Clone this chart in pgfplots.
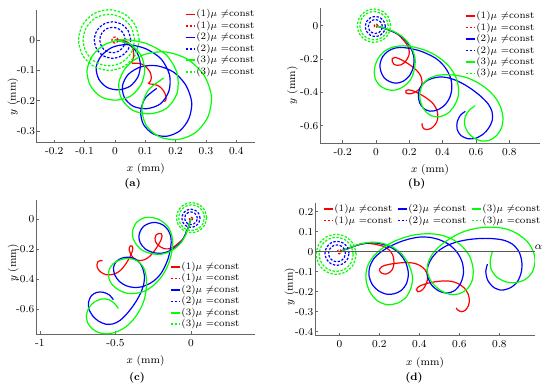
\documentclass[border=0pt]{standalone}
\usepackage{pgfplots}
\pgfplotsset{compat=1.18}
\pgfplotsset{
  legend image code/.code={\draw[#1, line width=1.2pt] (0pt,0pt) -- (7pt,0pt);},
  panel/.style={
    scale only axis, anchor=south west,
    axis x line*=bottom, axis y line*=left,
    axis line style={black!60, line width=0.7pt, -},
    tick align=inside, major tick length=2.2pt,
    every tick/.style={black!60, line width=0.5pt},
    tick label style={font=\footnotesize},
    yticklabel style={inner xsep=1pt},
    label style={font=\footnotesize},
    xlabel={$x$ (mm)}, ylabel={$y$ (mm)},
    clip mode=individual,
    legend cell align=left,
    legend style={draw=none, fill=none, font=\fontsize{7.3}{8.5}\selectfont, inner sep=0pt, outer sep=0pt,
      nodes={inner sep=0.4pt, text height=5.8pt, text depth=2pt}},
  },
  sR/.style={color=red, line width=0.9pt, smooth, mark=none},
  dR/.style={color=red, line width=0.9pt, smooth, mark=none, dash pattern=on 1.8pt off 1.2pt},
  sB/.style={color=blue, line width=0.9pt, smooth, mark=none},
  dB/.style={color=blue, line width=0.9pt, smooth, mark=none, dash pattern=on 1.8pt off 1.2pt},
  sG/.style={color=green, line width=0.9pt, smooth, mark=none},
  dG/.style={color=green, line width=0.9pt, smooth, mark=none, dash pattern=on 1.8pt off 1.2pt},
}
\begin{document}
\begin{tikzpicture}
\path[use as bounding box] (0,0) rectangle (412.5pt,292.5pt);

% ---------------- (a) ----------------
\begin{axis}[panel, at={(27.5pt,185.5pt)}, width=163.7pt, height=99.5pt,
  xmin=-0.258, xmax=0.4615, ymin=-0.338, ymax=0.099,
  xtick={-0.2,-0.1,0,0.1,0.2,0.3,0.4}, ytick={-0.3,-0.2,-0.1,0},
  xticklabels={-0.2,-0.1,0,0.1,0.2,0.3,0.4}, yticklabels={-0.3,-0.2,-0.1,0},
  ylabel style={at={(rel axis cs:-0.109,0.347)}, anchor=center},
  legend style={at={(rel axis cs:1,1.01)}, anchor=north east}]
\addplot[sR] coordinates {(0,0) (0.02,0.0) (0.038,-0.005) (0.052,-0.016) (0.06,-0.032) (0.062,-0.05) (0.059,-0.065) (0.055,-0.073) (0.058,-0.077) (0.07,-0.076) (0.088,-0.079) (0.104,-0.09) (0.116,-0.106) (0.12,-0.124) (0.116,-0.137) (0.111,-0.142) (0.116,-0.145) (0.13,-0.146) (0.147,-0.153) (0.16,-0.167) (0.168,-0.184) (0.168,-0.197) (0.163,-0.203)};
\addlegendentry{(1)$\mu$ $\neq$const}
\addplot[dR] coordinates {(0.01,0) (0.0087,0.005) (0.005,0.0087) (0,0.01) (-0.005,0.0087) (-0.0087,0.005) (-0.01,0) (-0.0087,-0.005) (-0.005,-0.0087) (0,-0.01) (0.005,-0.0087) (0.0087,-0.005) (0.01,0)};
\addlegendentry{(1)$\mu$ $=$const}
\addplot[sB] coordinates {(0,0) (0.041,-0.011) (0.072,-0.040) (0.084,-0.080) (0.076,-0.121) (0.050,-0.152) (0.012,-0.164) (-0.026,-0.156) (-0.053,-0.129) (-0.062,-0.090) (-0.045,-0.052) (-0.009,-0.024) (0.040,-0.015) (0.100,-0.028) (0.152,-0.062) (0.180,-0.115) (0.178,-0.168) (0.150,-0.210) (0.105,-0.226) (0.060,-0.218) (0.031,-0.189) (0.025,-0.150) (0.044,-0.113) (0.086,-0.088) (0.140,-0.085) (0.194,-0.106) (0.234,-0.149) (0.253,-0.205) (0.244,-0.258) (0.214,-0.299) (0.170,-0.317) (0.126,-0.309) (0.094,-0.278) (0.085,-0.235) (0.100,-0.191) (0.138,-0.159)};
\addlegendentry{(2)$\mu$ $\neq$const}
\addplot[dB] coordinates {(0.052,0) (0.044,0.03) (0.022,0.052) (-0.008,0.06) (-0.038,0.052) (-0.06,0.03) (-0.068,0) (-0.06,-0.03) (-0.038,-0.052) (-0.008,-0.06) (0.022,-0.052) (0.044,-0.03) (0.052,0)};
\addlegendentry{(2)$\mu$ $=$const}
\addplot[dB, forget plot] coordinates {(0.034,0) (0.0284,0.021) (0.013,0.0364) (-0.008,0.042) (-0.029,0.0364) (-0.0444,0.021) (-0.05,0) (-0.0444,-0.021) (-0.029,-0.0364) (-0.008,-0.042) (0.013,-0.0364) (0.0284,-0.021) (0.034,0)};
\addplot[sG] coordinates {(0,0) (0.049,-0.013) (0.085,-0.049) (0.098,-0.098) (0.086,-0.147) (0.051,-0.185) (0.002,-0.198) (-0.046,-0.187) (-0.081,-0.150) (-0.092,-0.100) (-0.073,-0.050) (-0.030,-0.013) (0.030,0.001) (0.105,-0.012) (0.170,-0.050) (0.205,-0.110) (0.205,-0.175) (0.170,-0.225) (0.115,-0.243) (0.060,-0.232) (0.022,-0.194) (0.013,-0.140) (0.039,-0.087) (0.093,-0.049) (0.165,-0.039) (0.237,-0.062) (0.293,-0.115) (0.318,-0.185) (0.306,-0.254) (0.264,-0.306) (0.205,-0.328) (0.145,-0.318) (0.102,-0.279) (0.089,-0.222) (0.110,-0.165) (0.161,-0.125)};
\addlegendentry{(3)$\mu$ $\neq$const}
\addplot[dG] coordinates {(0.08,0) (0.0666,0.05) (0.03,0.0866) (-0.02,0.1) (-0.07,0.0866) (-0.1066,0.05) (-0.12,0) (-0.1066,-0.05) (-0.07,-0.0866) (-0.02,-0.1) (0.03,-0.0866) (0.0666,-0.05) (0.08,0)};
\addlegendentry{(3)$\mu$ $=$const}
\addplot[dG, forget plot] coordinates {(0.065,0) (0.0536,0.0425) (0.0225,0.0736) (-0.02,0.085) (-0.0625,0.0736) (-0.0936,0.0425) (-0.105,0) (-0.0936,-0.0425) (-0.0625,-0.0736) (-0.02,-0.085) (0.0225,-0.0736) (0.0536,-0.0425) (0.065,0)};
\end{axis}

% ---------------- (b) ----------------
\begin{axis}[panel, at={(240pt,185pt)}, width=165pt, height=101.25pt,
  xmin=-0.336, xmax=0.984, ymin=-0.706, ymax=0.104,
  xtick={-0.2,0,0.2,0.4,0.6,0.8}, ytick={-0.6,-0.4,-0.2,0},
  xticklabels={-0.2,0,0.2,0.4,0.6,0.8}, yticklabels={-0.6,-0.4,-0.2,0},
  ylabel style={at={(rel axis cs:-0.125,0.43)}, anchor=center},
  legend style={at={(rel axis cs:0.977,0.985)}, anchor=north east}]
\addplot[sR] coordinates {(0,0) (0.048,-0.016) (0.097,-0.034) (0.134,-0.054) (0.163,-0.085) (0.189,-0.119) (0.199,-0.151) (0.197,-0.179) (0.186,-0.202) (0.170,-0.222) (0.151,-0.235) (0.129,-0.238) (0.108,-0.232) (0.097,-0.215) (0.098,-0.197) (0.113,-0.191) (0.134,-0.196) (0.164,-0.211) (0.198,-0.232) (0.230,-0.256) (0.255,-0.281) (0.271,-0.309) (0.276,-0.339) (0.270,-0.366) (0.254,-0.386) (0.232,-0.400) (0.210,-0.408) (0.191,-0.408) (0.179,-0.402) (0.180,-0.390) (0.193,-0.385) (0.213,-0.388) (0.243,-0.400) (0.279,-0.419) (0.312,-0.441) (0.342,-0.467) (0.362,-0.499) (0.371,-0.535) (0.368,-0.568) (0.354,-0.595) (0.331,-0.616) (0.306,-0.623) (0.285,-0.617) (0.276,-0.596) (0.278,-0.586)};
\addlegendentry{(1)$\mu$ $\neq$const}
\addplot[dR] coordinates {(0.01,0) (0.0087,0.005) (0.005,0.0087) (0,0.01) (-0.005,0.0087) (-0.0087,0.005) (-0.01,0) (-0.0087,-0.005) (-0.005,-0.0087) (0,-0.01) (0.005,-0.0087) (0.0087,-0.005) (0.01,0)};
\addlegendentry{(1)$\mu$ $=$const}
\addplot[sB] coordinates {(0,0) (0.048,-0.016) (0.100,-0.035) (0.149,-0.063) (0.185,-0.098) (0.213,-0.143) (0.228,-0.195) (0.223,-0.252) (0.199,-0.303) (0.160,-0.335) (0.120,-0.345) (0.082,-0.336) (0.049,-0.313) (0.029,-0.274) (0.024,-0.232) (0.040,-0.186) (0.071,-0.154) (0.112,-0.135) (0.157,-0.131) (0.210,-0.138) (0.263,-0.151) (0.312,-0.171) (0.357,-0.195) (0.395,-0.227) (0.426,-0.268) (0.449,-0.319) (0.455,-0.375) (0.443,-0.430) (0.413,-0.476) (0.370,-0.505) (0.324,-0.513) (0.286,-0.497) (0.262,-0.463) (0.254,-0.418) (0.266,-0.370) (0.296,-0.336) (0.335,-0.317) (0.381,-0.308) (0.429,-0.312) (0.480,-0.328) (0.535,-0.356) (0.585,-0.389) (0.632,-0.427) (0.674,-0.471) (0.696,-0.515) (0.698,-0.565) (0.677,-0.613) (0.644,-0.650) (0.597,-0.676) (0.551,-0.678) (0.509,-0.659) (0.487,-0.622) (0.487,-0.578) (0.506,-0.538) (0.536,-0.514)};
\addlegendentry{(2)$\mu$ $\neq$const}
\addplot[dB] coordinates {(0.056,-0.005) (0.048,0.025) (0.026,0.047) (-0.004,0.055) (-0.034,0.047) (-0.056,0.025) (-0.064,-0.005) (-0.056,-0.035) (-0.034,-0.057) (-0.004,-0.065) (0.026,-0.057) (0.048,-0.035) (0.056,-0.005)};
\addlegendentry{(2)$\mu$ $=$const}
\addplot[dB, forget plot] coordinates {(0.038,-0.005) (0.0324,0.016) (0.017,0.0314) (-0.004,0.037) (-0.025,0.0314) (-0.0404,0.016) (-0.046,-0.005) (-0.0404,-0.026) (-0.025,-0.0414) (-0.004,-0.047) (0.017,-0.0414) (0.0324,-0.026) (0.038,-0.005)};
\addplot[sG] coordinates {(0,0) (0.051,-0.016) (0.102,-0.033) (0.157,-0.065) (0.194,-0.103) (0.220,-0.146) (0.235,-0.203) (0.230,-0.264) (0.208,-0.323) (0.170,-0.362) (0.119,-0.386) (0.069,-0.384) (0.020,-0.357) (-0.007,-0.310) (-0.008,-0.251) (0.015,-0.193) (0.057,-0.149) (0.109,-0.127) (0.166,-0.121) (0.230,-0.129) (0.293,-0.147) (0.349,-0.173) (0.399,-0.207) (0.442,-0.249) (0.476,-0.302) (0.493,-0.360) (0.493,-0.424) (0.469,-0.482) (0.429,-0.527) (0.381,-0.546) (0.334,-0.541) (0.294,-0.511) (0.269,-0.462) (0.263,-0.406) (0.279,-0.355) (0.314,-0.319) (0.362,-0.300) (0.418,-0.294) (0.479,-0.298) (0.545,-0.312) (0.610,-0.342) (0.668,-0.382) (0.717,-0.433) (0.748,-0.490) (0.762,-0.552) (0.754,-0.610) (0.728,-0.654) (0.687,-0.685) (0.636,-0.692) (0.586,-0.674) (0.551,-0.639) (0.531,-0.591) (0.536,-0.543) (0.561,-0.506) (0.594,-0.481)};
\addlegendentry{(3)$\mu$ $\neq$const}
\addplot[dG] coordinates {(0.088,0) (0.0746,0.05) (0.038,0.0866) (-0.012,0.1) (-0.062,0.0866) (-0.0986,0.05) (-0.112,0) (-0.0986,-0.05) (-0.062,-0.0866) (-0.012,-0.1) (0.038,-0.0866) (0.0746,-0.05) (0.088,0)};
\addlegendentry{(3)$\mu$ $=$const}
\addplot[dG, forget plot] coordinates {(0.073,0) (0.0616,0.0425) (0.0305,0.0736) (-0.012,0.085) (-0.0545,0.0736) (-0.0856,0.0425) (-0.097,0) (-0.0856,-0.0425) (-0.0545,-0.0736) (-0.012,-0.085) (0.0305,-0.0736) (0.0616,-0.0425) (0.073,0)};
\end{axis}

% ---------------- (c) ----------------
\begin{axis}[panel, at={(27pt,41.8pt)}, width=164.25pt, height=100.7pt,
  xmin=-1.026, xmax=0.424, ymin=-0.765, ymax=0.125,
  xtick={-1,-0.5,0}, ytick={-0.6,-0.4,-0.2,0},
  xticklabels={-1,-0.5,0}, yticklabels={-0.6,-0.4,-0.2,0},
  ylabel style={at={(rel axis cs:-0.104,0.53)}, anchor=center},
  legend style={at={(rel axis cs:0.612,0.544)}, anchor=north west}]
\addplot[sR] coordinates {(0,0) (-0.016,-0.048) (-0.034,-0.097) (-0.054,-0.134) (-0.085,-0.163) (-0.119,-0.189) (-0.151,-0.199) (-0.179,-0.197) (-0.202,-0.186) (-0.222,-0.170) (-0.235,-0.151) (-0.238,-0.129) (-0.232,-0.108) (-0.215,-0.097) (-0.197,-0.098) (-0.191,-0.113) (-0.196,-0.134) (-0.211,-0.164) (-0.232,-0.198) (-0.256,-0.230) (-0.281,-0.255) (-0.309,-0.271) (-0.339,-0.276) (-0.366,-0.270) (-0.386,-0.254) (-0.400,-0.232) (-0.408,-0.210) (-0.408,-0.191) (-0.402,-0.179) (-0.390,-0.180) (-0.385,-0.193) (-0.388,-0.213) (-0.400,-0.243) (-0.419,-0.279) (-0.441,-0.312) (-0.467,-0.342) (-0.499,-0.362) (-0.535,-0.371) (-0.568,-0.368) (-0.595,-0.354) (-0.616,-0.331) (-0.623,-0.306) (-0.617,-0.285) (-0.596,-0.276) (-0.586,-0.278)};
\addlegendentry{(1)$\mu$ $\neq$const}
\addplot[dR] coordinates {(0.01,0) (0.0087,0.005) (0.005,0.0087) (0,0.01) (-0.005,0.0087) (-0.0087,0.005) (-0.01,0) (-0.0087,-0.005) (-0.005,-0.0087) (0,-0.01) (0.005,-0.0087) (0.0087,-0.005) (0.01,0)};
\addlegendentry{(1)$\mu$ $=$const}
\addplot[sB] coordinates {(0,0) (-0.016,-0.048) (-0.035,-0.100) (-0.063,-0.149) (-0.098,-0.185) (-0.143,-0.213) (-0.195,-0.228) (-0.252,-0.223) (-0.303,-0.199) (-0.335,-0.160) (-0.345,-0.120) (-0.336,-0.082) (-0.313,-0.049) (-0.274,-0.029) (-0.232,-0.024) (-0.186,-0.040) (-0.154,-0.071) (-0.135,-0.112) (-0.131,-0.157) (-0.138,-0.210) (-0.151,-0.263) (-0.171,-0.312) (-0.195,-0.357) (-0.227,-0.395) (-0.268,-0.426) (-0.319,-0.449) (-0.375,-0.455) (-0.430,-0.443) (-0.476,-0.413) (-0.505,-0.370) (-0.513,-0.324) (-0.497,-0.286) (-0.463,-0.262) (-0.418,-0.254) (-0.370,-0.266) (-0.336,-0.296) (-0.317,-0.335) (-0.308,-0.381) (-0.312,-0.429) (-0.328,-0.480) (-0.356,-0.535) (-0.389,-0.585) (-0.427,-0.632) (-0.471,-0.674) (-0.515,-0.696) (-0.565,-0.698) (-0.613,-0.677) (-0.650,-0.644) (-0.676,-0.597) (-0.678,-0.551) (-0.659,-0.509) (-0.622,-0.487) (-0.578,-0.487) (-0.538,-0.506) (-0.514,-0.536)};
\addlegendentry{(2)$\mu$ $\neq$const}
\addplot[dB] coordinates {(0.06,0.004) (0.052,0.034) (0.03,0.056) (0,0.064) (-0.03,0.056) (-0.052,0.034) (-0.06,0.004) (-0.052,-0.026) (-0.03,-0.048) (0,-0.056) (0.03,-0.048) (0.052,-0.026) (0.06,0.004)};
\addlegendentry{(2)$\mu$ $=$const}
\addplot[dB, forget plot] coordinates {(0.042,0.004) (0.0364,0.025) (0.021,0.0404) (0,0.046) (-0.021,0.0404) (-0.0364,0.025) (-0.042,0.004) (-0.0364,-0.017) (-0.021,-0.0324) (0,-0.038) (0.021,-0.0324) (0.0364,-0.017) (0.042,0.004)};
\addplot[sG] coordinates {(0,0) (-0.016,-0.051) (-0.033,-0.102) (-0.065,-0.157) (-0.103,-0.194) (-0.146,-0.220) (-0.203,-0.235) (-0.264,-0.230) (-0.323,-0.208) (-0.362,-0.170) (-0.386,-0.119) (-0.384,-0.069) (-0.357,-0.020) (-0.310,0.007) (-0.251,0.008) (-0.193,-0.015) (-0.149,-0.057) (-0.127,-0.109) (-0.121,-0.166) (-0.129,-0.230) (-0.147,-0.293) (-0.173,-0.349) (-0.207,-0.399) (-0.249,-0.442) (-0.302,-0.476) (-0.360,-0.493) (-0.424,-0.493) (-0.482,-0.469) (-0.527,-0.429) (-0.546,-0.381) (-0.541,-0.334) (-0.511,-0.294) (-0.462,-0.269) (-0.406,-0.263) (-0.355,-0.279) (-0.319,-0.314) (-0.300,-0.362) (-0.294,-0.418) (-0.298,-0.479) (-0.312,-0.545) (-0.342,-0.610) (-0.382,-0.668) (-0.433,-0.717) (-0.490,-0.748) (-0.552,-0.762) (-0.610,-0.754) (-0.654,-0.728) (-0.685,-0.687) (-0.692,-0.636) (-0.674,-0.586) (-0.639,-0.551) (-0.591,-0.531) (-0.543,-0.536) (-0.506,-0.561) (-0.481,-0.594)};
\addlegendentry{(3)$\mu$ $\neq$const}
\addplot[dG] coordinates {(0.104,0.008) (0.0906,0.058) (0.054,0.0946) (0.004,0.108) (-0.046,0.0946) (-0.0826,0.058) (-0.096,0.008) (-0.0826,-0.042) (-0.046,-0.0786) (0.004,-0.092) (0.054,-0.0786) (0.0906,-0.042) (0.104,0.008)};
\addlegendentry{(3)$\mu$ $=$const}
\addplot[dG, forget plot] coordinates {(0.089,0.008) (0.0776,0.0505) (0.0465,0.0816) (0.004,0.093) (-0.0385,0.0816) (-0.0696,0.0505) (-0.081,0.008) (-0.0696,-0.0345) (-0.0385,-0.0656) (0.004,-0.077) (0.0465,-0.0656) (0.0776,-0.0345) (0.089,0.008)};
\end{axis}

% ---------------- (d) ----------------
\begin{axis}[panel, at={(236.25pt,40.7pt)}, width=165pt, height=99.3pt,
  xmin=-0.122, xmax=0.978, ymin=-0.42, ymax=0.242,
  xtick={0,0.2,0.4,0.6,0.8}, ytick={-0.4,-0.3,-0.2,-0.1,0,0.1,0.2},
  xticklabels={0,0.2,0.4,0.6,0.8}, yticklabels={-0.4,-0.3,-0.2,-0.1,0,0.1,0.2},
  ylabel style={at={(rel axis cs:-0.114,0.37)}, anchor=center},
  legend columns=3,
  legend style={at={(rel axis cs:0.036,1.0)}, anchor=north west,
    /tikz/every even column/.append style={column sep=3pt}}]
\addplot[sR] coordinates {(0,0) (0.047,0.018) (0.097,0.035) (0.138,0.042) (0.18,0.037) (0.222,0.026) (0.25,0.008) (0.266,-0.015) (0.272,-0.04) (0.272,-0.065) (0.265,-0.088) (0.25,-0.104) (0.23,-0.112) (0.21,-0.106) (0.2,-0.092) (0.208,-0.078) (0.228,-0.068) (0.26,-0.061) (0.3,-0.056) (0.34,-0.054) (0.375,-0.058) (0.405,-0.07) (0.428,-0.09) (0.44,-0.115) (0.44,-0.14) (0.432,-0.165) (0.42,-0.185) (0.405,-0.197) (0.392,-0.2) (0.385,-0.19) (0.392,-0.178) (0.41,-0.168) (0.44,-0.158) (0.48,-0.15) (0.52,-0.146) (0.56,-0.148) (0.595,-0.16) (0.625,-0.182) (0.643,-0.21) (0.65,-0.24) (0.645,-0.27) (0.63,-0.292) (0.61,-0.3) (0.59,-0.29) (0.585,-0.28)};
\addlegendentry{(1)$\mu$ $\neq$const}
\addplot[sB] coordinates {(0,0) (0.047,0.018) (0.1,0.036) (0.155,0.045) (0.205,0.04) (0.255,0.023) (0.3,-0.008) (0.332,-0.055) (0.345,-0.11) (0.335,-0.16) (0.31,-0.193) (0.275,-0.21) (0.235,-0.212) (0.195,-0.195) (0.165,-0.165) (0.148,-0.12) (0.152,-0.075) (0.172,-0.035) (0.205,-0.003) (0.25,0.025) (0.3,0.048) (0.35,0.064) (0.4,0.073) (0.45,0.072) (0.5,0.06) (0.55,0.035) (0.59,-0.005) (0.615,-0.055) (0.62,-0.11) (0.605,-0.16) (0.575,-0.195) (0.535,-0.207) (0.495,-0.195) (0.46,-0.165) (0.44,-0.12) (0.442,-0.075) (0.46,-0.035) (0.49,0.0) (0.53,0.027) (0.58,0.047) (0.64,0.06) (0.7,0.066) (0.76,0.066) (0.82,0.058) (0.865,0.038) (0.898,0.0) (0.912,-0.05) (0.91,-0.1) (0.89,-0.15) (0.855,-0.18) (0.81,-0.192) (0.77,-0.177) (0.742,-0.143) (0.732,-0.1) (0.74,-0.062)};
\addlegendentry{(2)$\mu$ $\neq$const}
\addplot[sG] coordinates {(0,0) (0.05,0.02) (0.1,0.038) (0.163,0.048) (0.215,0.042) (0.263,0.025) (0.31,-0.01) (0.345,-0.06) (0.365,-0.12) (0.36,-0.175) (0.335,-0.225) (0.295,-0.255) (0.24,-0.265) (0.19,-0.245) (0.152,-0.2) (0.133,-0.14) (0.138,-0.08) (0.165,-0.03) (0.205,0.01) (0.26,0.045) (0.32,0.07) (0.38,0.085) (0.44,0.09) (0.5,0.085) (0.56,0.065) (0.61,0.03) (0.65,-0.02) (0.668,-0.08) (0.665,-0.14) (0.64,-0.185) (0.6,-0.21) (0.55,-0.212) (0.5,-0.19) (0.46,-0.15) (0.44,-0.1) (0.445,-0.05) (0.47,-0.005) (0.51,0.035) (0.56,0.07) (0.62,0.1) (0.69,0.118) (0.76,0.123) (0.83,0.115) (0.89,0.09) (0.94,0.05) (0.97,0.0) (0.978,-0.05) (0.965,-0.1) (0.93,-0.138) (0.88,-0.155) (0.83,-0.15) (0.785,-0.125) (0.758,-0.085) (0.755,-0.04) (0.765,0.0)};
\addlegendentry{(3)$\mu$ $\neq$const}
\addplot[dR] coordinates {(0.01,0) (0.0087,0.005) (0.005,0.0087) (0,0.01) (-0.005,0.0087) (-0.0087,0.005) (-0.01,0) (-0.0087,-0.005) (-0.005,-0.0087) (0,-0.01) (0.005,-0.0087) (0.0087,-0.005) (0.01,0)};
\addlegendentry{(1)$\mu$ $=$const}
\addplot[dB] coordinates {(0.048,-0.008) (0.04,0.022) (0.018,0.044) (-0.012,0.052) (-0.042,0.044) (-0.064,0.022) (-0.072,-0.008) (-0.064,-0.038) (-0.042,-0.06) (-0.012,-0.068) (0.018,-0.06) (0.04,-0.038) (0.048,-0.008)};
\addlegendentry{(2)$\mu$ $=$const}
\addplot[dG] coordinates {(0.084,-0.013) (0.0706,0.037) (0.034,0.0736) (-0.016,0.087) (-0.066,0.0736) (-0.1026,0.037) (-0.116,-0.013) (-0.1026,-0.063) (-0.066,-0.0996) (-0.016,-0.113) (0.034,-0.0996) (0.0706,-0.063) (0.084,-0.013)};
\addlegendentry{(3)$\mu$ $=$const}
\addplot[dB, forget plot] coordinates {(0.03,-0.008) (0.0244,0.013) (0.009,0.0284) (-0.012,0.034) (-0.033,0.0284) (-0.0484,0.013) (-0.054,-0.008) (-0.0484,-0.029) (-0.033,-0.0444) (-0.012,-0.05) (0.009,-0.0444) (0.0244,-0.029) (0.03,-0.008)};
\addplot[dG, forget plot] coordinates {(0.069,-0.013) (0.0576,0.0295) (0.0265,0.0606) (-0.016,0.072) (-0.0585,0.0606) (-0.0896,0.0295) (-0.101,-0.013) (-0.0896,-0.0555) (-0.0585,-0.0866) (-0.016,-0.098) (0.0265,-0.0866) (0.0576,-0.0555) (0.069,-0.013)};
\addplot[black!65, line width=1pt, forget plot] coordinates {(-0.122,0) (0.978,0)};
\node[font=\footnotesize] at (axis cs:0.995,0.022) {$\alpha$};
\end{axis}

\node[font=\footnotesize\bfseries] at (99.5pt,155pt) {(a)};
\node[font=\footnotesize\bfseries] at (312.5pt,155pt) {(b)};
\node[font=\footnotesize\bfseries] at (102.75pt,9.2pt) {(c)};
\node[font=\footnotesize\bfseries] at (310.5pt,9pt) {(d)};
\end{tikzpicture}
\end{document}
